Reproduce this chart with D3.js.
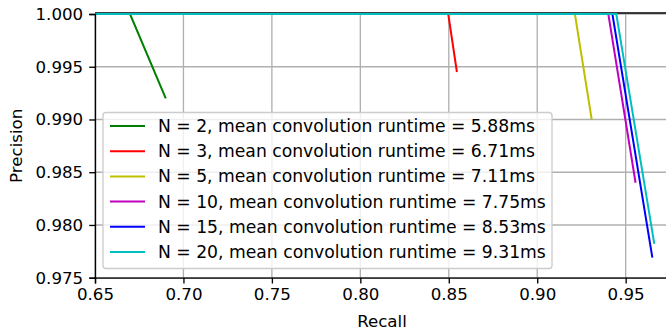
<!DOCTYPE html>
<html>
<head>
<meta charset="utf-8">
<script src="https://d3js.org/d3.v7.min.js"></script>
<style>
  body { margin: 0; background: #fff; }
  svg { display: block; font-family: "DejaVu Sans", sans-serif; }
</style>
</head>
<body>
<svg id="chart" width="666" height="333"></svg>
<script>
// series: window size N, runtime, and PR curve points (recall, precision)
const sizes = [2, 3, 5, 10, 15, 20]
const runtimes = ["5.88", "6.71", "7.11", "7.75", "8.53", "9.31"]
const colors = ["#008000", "#ff0000", "#bfbf00", "#bf00bf", "#0000ff", "#00bfbf"]
const recalls = [
  [0.60, 0.6698, 0.6900],
  [0.60, 0.8497, 0.8546],
  [0.60, 0.9213, 0.9308],
  [0.60, 0.9402, 0.9556],
  [0.60, 0.9425, 0.9651],
  [0.60, 0.9447, 0.9662]
]
const precisions = [
  [1.0, 1.0, 0.9920],
  [1.0, 1.0, 0.9945],
  [1.0, 1.0, 0.9900],
  [1.0, 1.0, 0.9840],
  [1.0, 1.0, 0.9769],
  [1.0, 1.0, 0.9782]
]
const xTicks = [0.65, 0.70, 0.75, 0.80, 0.85, 0.90, 0.95]
const yTicks = [0.975, 0.980, 0.985, 0.990, 0.995, 1.000]

const margin = {left: 95, top: 14, right: 669, bottom: 277.7}
const svg = d3.select("#chart")
const fs = 16.67

const x = d3.scaleLinear().domain([0.65, 0.9745]).range([margin.left, margin.right])
const y = d3.scaleLinear().domain([0.975, 1.0]).range([margin.bottom, margin.top])

svg.append("defs").append("clipPath").attr("id", "clip")
  .append("rect")
  .attr("x", margin.left).attr("y", margin.top - 1.5)
  .attr("width", margin.right - margin.left).attr("height", margin.bottom - margin.top + 1.5)

// grid
svg.append("g").selectAll("line").data(xTicks).join("line")
  .attr("x1", d => x(d)).attr("x2", d => x(d))
  .attr("y1", margin.top).attr("y2", margin.bottom)
  .attr("stroke", "#b0b0b0").attr("stroke-width", 1.33)
svg.append("g").selectAll("line").data(yTicks).join("line")
  .attr("y1", d => y(d)).attr("y2", d => y(d))
  .attr("x1", margin.left).attr("x2", margin.right)
  .attr("stroke", "#b0b0b0").attr("stroke-width", 1.33)

// top spine (drawn under the curves so the cyan shows below it)
svg.append("line")
  .attr("x1", margin.left).attr("x2", margin.right)
  .attr("y1", margin.top - 1).attr("y2", margin.top - 1)
  .attr("stroke", "#000").attr("stroke-width", 1.33)

// curves
const line = d3.line().x(d => x(d[0])).y(d => y(d[1]))
svg.append("g").attr("clip-path", "url(#clip)")
  .selectAll("path").data(sizes).join("path")
  .attr("d", (d, i) => line(d3.zip(recalls[i], precisions[i])))
  .attr("fill", "none")
  .attr("stroke", (d, i) => colors[i])
  .attr("stroke-width", 2)

// axes
const xAxis = svg.append("g").attr("transform", `translate(0,${margin.bottom})`)
  .call(d3.axisBottom(x).tickValues(xTicks).tickFormat(d3.format(".2f")).tickSizeOuter(0).tickSize(5.8).tickPadding(5))
const yAxis = svg.append("g").attr("transform", `translate(${margin.left},0)`)
  .call(d3.axisLeft(y).tickValues(yTicks).tickFormat(d3.format(".3f")).tickSizeOuter(0).tickSize(5.8).tickPadding(6))
for (const g of [xAxis, yAxis]) {
  g.select(".domain").attr("stroke", "#000").attr("stroke-width", 1.33)
  g.selectAll(".tick line").attr("stroke", "#000").attr("stroke-width", 1.33)
  g.selectAll(".tick text").attr("fill", "#000")
    .style("font-family", "DejaVu Sans").style("font-size", fs + "px")
}

// axis labels
svg.append("text").attr("x", (margin.left + margin.right) / 2).attr("y", 327)
  .attr("text-anchor", "middle").style("font-size", fs + "px").text("Recall")
svg.append("text")
  .attr("transform", `translate(22,${(margin.top + margin.bottom) / 2}) rotate(-90)`)
  .attr("text-anchor", "middle").style("font-size", fs + "px").text("Precision")

// legend
const lg = svg.append("g")
lg.append("rect")
  .attr("x", 103).attr("y", 112.5).attr("width", 449).attr("height", 156)
  .attr("rx", 3).attr("fill", "#fff").attr("fill-opacity", 0.8)
  .attr("stroke", "#cccccc").attr("stroke-width", 1.33)
const rows = lg.selectAll("g.row").data(sizes).join("g").attr("class", "row")
  .attr("transform", (d, i) => `translate(0,${126 + i * 25.2})`)
rows.append("line").attr("x1", 110).attr("x2", 145)
  .attr("stroke", (d, i) => colors[i]).attr("stroke-width", 2)
rows.append("text").attr("x", 158).attr("dy", "0.35em")
  .style("font-size", "17.2px")
  .text((d, i) => `N = ${d}, mean convolution runtime = ${runtimes[i]}ms`)
</script>
</body>
</html>
